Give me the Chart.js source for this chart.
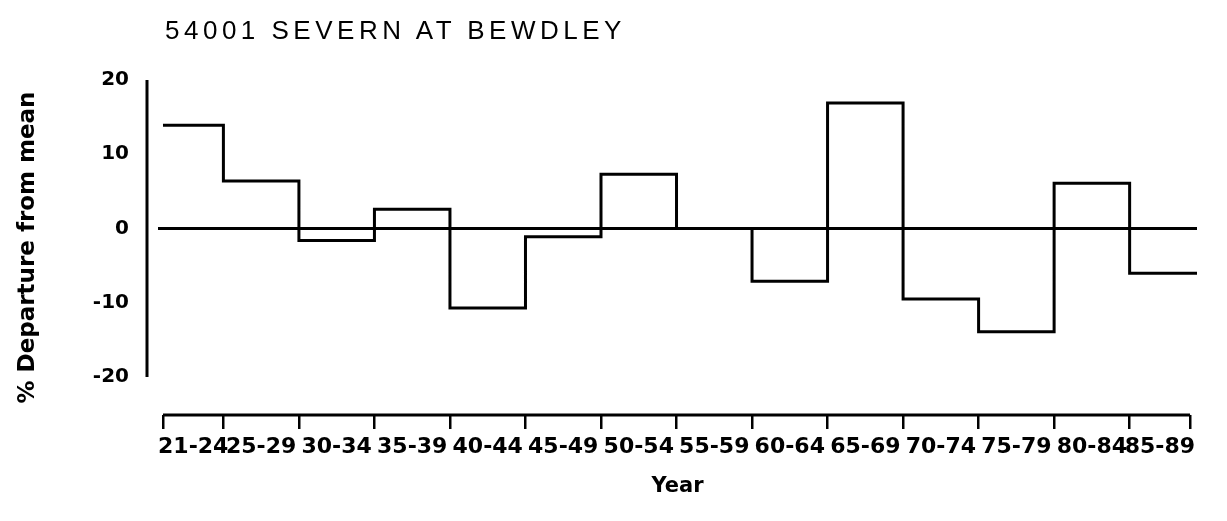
<!DOCTYPE html>
<html>
<head>
<meta charset="utf-8">
<title>54001 Severn at Bewdley</title>
<script src="https://cdn.jsdelivr.net/npm/chart.js@4.4.1/dist/chart.umd.min.js"></script>
<style>
  html, body { margin: 0; padding: 0; background: #fff; }
  #wrap { position: relative; width: 1227px; height: 521px; }
  #chart { position: absolute; left: 0; top: 0; }
  #title {
    position: absolute; left: 165px; top: 17px;
    font: 26px "Liberation Sans", Arial, sans-serif;
    line-height: 26px; letter-spacing: 4.5px; color: #000; white-space: nowrap;
  }
</style>
</head>
<body>
<div id="wrap">
  <canvas id="chart" width="1227" height="521"></canvas>
  <div id="title">54001 SEVERN AT BEWDLEY</div>
</div>
<script>
// 5-year periods and their % departure from the long-term mean flow
var periods = ['21-24', '25-29', '30-34', '35-39', '40-44', '45-49', '50-54',
               '55-59', '60-64', '65-69', '70-74', '75-79', '80-84', '85-89'];
var startYears = [1921, 1925, 1930, 1935, 1940, 1945, 1950,
                  1955, 1960, 1965, 1970, 1975, 1980, 1985];
var endYear = 1989;
var departures = [13.9, 6.4, -1.6, 2.6, -10.7, -1.1, 7.3,
                  0.0, -7.1, 16.9, -9.5, -13.9, 6.1, -6.0];
var yTicks = [-20, -10, 0, 10, 20];

// axis ranges
var xMin = 1920.67, xMax = 1989.46;
var yMin = -25.1, yMax = 20;

var boundaries = startYears.concat([endYear]);
var midpoints = startYears.map(function (yr, i) {
    return (yr + boundaries[i + 1]) / 2;
});

// step line: one point at the start of each period, plus the right edge
var stepData = startYears.map(function (yr, i) {
    return { x: yr, y: departures[i] };
});
stepData.push({ x: xMax, y: departures[departures.length - 1] });

var boldFont = function (size) {
    return { family: 'DejaVu Sans', size: size, weight: 'bold' };
};

// draws the detached y axis line and the x axis line
var axisLines = {
    id: 'axisLines',
    afterDraw: function (chart) {
        var ctx = chart.ctx;
        var xs = chart.scales.x, ys = chart.scales.y, area = chart.chartArea;
        ctx.save();
        ctx.strokeStyle = '#000';
        ctx.lineWidth = 3;
        ctx.beginPath();
        var ax = area.left - 11;
        ctx.moveTo(ax, ys.getPixelForValue(yTicks[yTicks.length - 1]));
        ctx.lineTo(ax, ys.getPixelForValue(yTicks[0]));
        ctx.moveTo(xs.getPixelForValue(boundaries[0]), area.bottom);
        ctx.lineTo(xs.getPixelForValue(endYear), area.bottom);
        ctx.stroke();
        ctx.restore();
    }
};

document.addEventListener('DOMContentLoaded', function () {
    var ctx = document.getElementById('chart').getContext('2d');
    new Chart(ctx, {
        type: 'line',
        data: {
            datasets: [{
                data: stepData,
                stepped: 'before',
                borderColor: '#000',
                borderWidth: 3,
                pointRadius: 0,
                fill: false
            }, {
                data: [{ x: xMin, y: 0 }, { x: xMax, y: 0 }],
                borderColor: '#000',
                borderWidth: 3,
                pointRadius: 0,
                fill: false
            }]
        },
        options: {
            responsive: false,
            animation: false,
            layout: { padding: { left: 3, top: 80, right: 30, bottom: 0 } },
            plugins: {
                legend: { display: false },
                tooltip: { enabled: false }
            },
            scales: {
                x: {
                    type: 'linear',
                    position: 'bottom',
                    weight: 0,
                    min: xMin,
                    max: xMax,
                    afterBuildTicks: function (axis) {
                        axis.ticks = boundaries.map(function (v) { return { value: v }; });
                    },
                    afterFit: function (axis) { axis.height = 14; },
                    ticks: { display: false },
                    grid: {
                        display: true, drawOnChartArea: false, drawTicks: true,
                        tickLength: 14, color: '#000', lineWidth: 2.5
                    },
                    border: { display: false }
                },
                x2: {
                    type: 'linear',
                    position: 'bottom',
                    weight: 1,
                    min: xMin,
                    max: xMax,
                    afterBuildTicks: function (axis) {
                        axis.ticks = midpoints.map(function (v) { return { value: v }; });
                    },
                    afterFit: function (axis) { axis.height = 92; },
                    ticks: {
                        autoSkip: false, minRotation: 0, maxRotation: 0,
                        padding: -3, color: '#000', font: boldFont(22),
                        callback: function (v, i) { return periods[i]; }
                    },
                    grid: { display: false },
                    border: { display: false },
                    title: {
                        display: true, text: 'Year', color: '#000',
                        font: boldFont(21), padding: { top: 0, bottom: 22 }
                    }
                },
                y: {
                    min: yMin,
                    max: yMax,
                    afterBuildTicks: function (axis) {
                        axis.ticks = yTicks.map(function (v) { return { value: v }; });
                    },
                    afterFit: function (axis) { axis.width = 155; },
                    ticks: { padding: 21, color: '#000', font: boldFont(20) },
                    grid: { display: false },
                    border: { display: false },
                    title: {
                        display: true, text: '% Departure from mean', color: '#000',
                        font: boldFont(23), padding: { top: 11, bottom: 0 }
                    }
                }
            }
        },
        plugins: [axisLines]
    });
});
</script>
</body>
</html>
